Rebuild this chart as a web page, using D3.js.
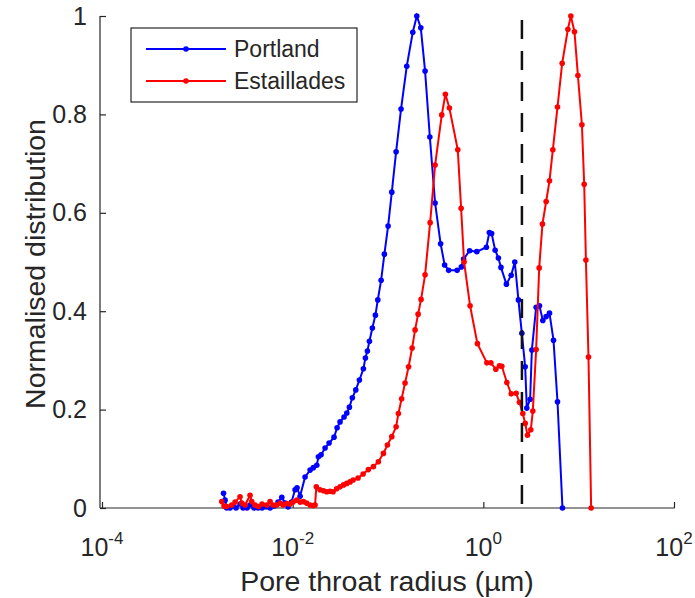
<!DOCTYPE html>
<html>
<head>
<meta charset="utf-8">
<script src="https://cdn.jsdelivr.net/npm/d3@7"></script>
<style>
  body { margin: 0; background: #fff; }
  text { font-family: "Liberation Sans", Arial, sans-serif; fill: #262626; }
</style>
</head>
<body>
<div id="chart"></div>
<script>
// log10 of pore throat radius (um) and normalised distribution
var portlandLogR = [-2.725, -2.709, -2.692, -2.657, -2.625, -2.594, -2.552, -2.520, -2.479, -2.447,
  -2.405, -2.363, -2.321, -2.279, -2.237, -2.195, -2.153, -2.114, -2.080, -2.048,
  -2.012, -1.975, -1.954, -1.922, -1.870, -1.817, -1.783, -1.747, -1.730, -1.702,
  -1.660, -1.618, -1.566, -1.534, -1.503, -1.461, -1.432, -1.405, -1.374, -1.338,
  -1.300, -1.258, -1.237, -1.216, -1.195, -1.164, -1.132, -1.107, -1.072, -1.038,
  -0.999, -0.960, -0.915, -0.863, -0.803, -0.740, -0.698, -0.656, -0.611, -0.561,
  -0.506, -0.448, -0.406, -0.364, -0.275, -0.230, -0.207, -0.144, -0.068, 0.032,
  0.063, 0.087, 0.124, 0.158, 0.185, 0.242, 0.292, 0.330, 0.368, 0.404,
  0.439, 0.456, 0.491, 0.509, 0.554, 0.589, 0.624, 0.659, 0.694, 0.736,
  0.778, 0.830];
var portlandDist = [0.030, 0.016, 0, 0, 0.004, 0, 0.008, 0, 0, 0.006,
  0, 0, 0, 0.002, 0, 0.004, 0.012, 0.022, 0.010, 0.002,
  0.012, 0.037, 0.041, 0.024, 0.063, 0.077, 0.082, 0.087, 0.104, 0.108,
  0.122, 0.132, 0.144, 0.163, 0.175, 0.185, 0.193, 0.205, 0.224, 0.240,
  0.260, 0.283, 0.305, 0.319, 0.339, 0.366, 0.392, 0.423, 0.463, 0.516,
  0.573, 0.642, 0.724, 0.811, 0.898, 0.967, 1.000, 0.976, 0.888, 0.754,
  0.620, 0.537, 0.494, 0.483, 0.483, 0.490, 0.506, 0.523, 0.521, 0.530,
  0.560, 0.558, 0.524, 0.508, 0.489, 0.455, 0.473, 0.500, 0.423, 0.355,
  0.287, 0.203, 0.221, 0.321, 0.408, 0.411, 0.381, 0.389, 0.396, 0.341,
  0.216, 0];

var estailladesLogR = [-2.744, -2.720, -2.692, -2.639, -2.604, -2.552, -2.534, -2.499, -2.447, -2.429,
  -2.395, -2.360, -2.321, -2.272, -2.237, -2.206, -2.167, -2.132, -2.101, -2.062,
  -2.027, -1.996, -1.957, -1.922, -1.888, -1.854, -1.817, -1.786, -1.765, -1.752,
  -1.713, -1.676, -1.642, -1.608, -1.576, -1.539, -1.503, -1.466, -1.432, -1.398,
  -1.366, -1.314, -1.261, -1.206, -1.153, -1.101, -1.048, -1.006, -0.960, -0.915,
  -0.891, -0.857, -0.821, -0.784, -0.747, -0.716, -0.684, -0.653, -0.611, -0.558,
  -0.506, -0.436, -0.398, -0.356, -0.268, -0.233, -0.202, -0.139, -0.062, 0.037,
  0.079, 0.131, 0.169, 0.194, 0.247, 0.292, 0.344, 0.379, 0.414, 0.439,
  0.463, 0.498, 0.519, 0.554, 0.586, 0.620, 0.659, 0.694, 0.729, 0.778,
  0.827, 0.887, 0.918, 0.956, 0.992, 1.034, 1.058, 1.076, 1.103, 1.131];
var estailladesDist = [0.013, 0.004, 0.003, 0.006, 0.012, 0.023, 0.010, 0.006, 0.026, 0.013,
  0.006, 0.003, 0.008, 0.006, 0.013, 0.006, 0.006, 0.010, 0.006, 0.009,
  0.008, 0.012, 0.016, 0.012, 0.013, 0.010, 0.006, 0.005, 0.006, 0.043,
  0.037, 0.035, 0.033, 0.034, 0.033, 0.039, 0.043, 0.047, 0.050, 0.053,
  0.057, 0.061, 0.069, 0.078, 0.084, 0.094, 0.111, 0.128, 0.145, 0.165,
  0.192, 0.222, 0.254, 0.287, 0.325, 0.362, 0.394, 0.424, 0.474, 0.580,
  0.697, 0.799, 0.841, 0.813, 0.728, 0.609, 0.500, 0.411, 0.334, 0.295,
  0.295, 0.282, 0.289, 0.288, 0.255, 0.232, 0.233, 0.215, 0.192, 0.172,
  0.148, 0.159, 0.197, 0.322, 0.488, 0.577, 0.623, 0.665, 0.728, 0.815,
  0.904, 0.973, 1.000, 0.968, 0.879, 0.779, 0.658, 0.504, 0.307, 0];

var cutoffRadius = 2.54;
var xTicks = [1e-4, 1e-2, 1, 1e2];
var xTickExp = ["-4", "-2", "0", "2"];
var yTicks = [0, 0.2, 0.4, 0.6, 0.8, 1];
var seriesNames = ["Portland", "Estaillades"];
var seriesColors = ["#0000ff", "#ff0000"];

var svgWidth = 695;
var svgHeight = 598;

var svg = d3.select("#chart")
  .append("svg")
  .attr("width", svgWidth)
  .attr("height", svgHeight);

var xScale = d3.scaleLog().domain([1e-4, 1e2]).range([102, 674]);
var yScale = d3.scaleLinear().domain([0, 1]).range([508, 16]);

// series as arrays of {r, v}
var series = [
  portlandLogR.map((e, i) => ({ r: Math.pow(10, e), v: portlandDist[i] })),
  estailladesLogR.map((e, i) => ({ r: Math.pow(10, e), v: estailladesDist[i] }))
];

// axes
var xAxis = svg.append("g")
  .attr("transform", `translate(0, ${yScale(0)})`)
  .call(d3.axisBottom(xScale).tickValues(xTicks).tickSizeInner(-6).tickSizeOuter(0).tickFormat(""));

var yAxis = svg.append("g")
  .attr("transform", "translate(100, 0)")
  .call(d3.axisLeft(yScale).tickValues(yTicks).tickSizeInner(-6).tickSizeOuter(0).tickPadding(13)
    .tickFormat(d3.format("")));

svg.selectAll(".domain").remove();
svg.selectAll(".tick line").attr("stroke", "#262626").attr("stroke-width", 1.2);
yAxis.selectAll(".tick text").attr("font-size", 25).attr("fill", "#262626")
  .style("font-family", "'Liberation Sans', Arial, sans-serif");

svg.append("line")
  .attr("x1", 100).attr("x2", 100)
  .attr("y1", yScale(1)).attr("y2", yScale(0))
  .attr("stroke", "#262626").attr("stroke-width", 1.2);
svg.append("line")
  .attr("x1", 100).attr("x2", xScale(1e2) + 0.6)
  .attr("y1", yScale(0)).attr("y2", yScale(0))
  .attr("stroke", "#262626").attr("stroke-width", 1.2);

// x tick labels with superscript exponents
var xLab = svg.append("g").selectAll("text")
  .data(xTicks)
  .enter()
  .append("text")
  .attr("x", d => xScale(d))
  .attr("y", 556)
  .attr("text-anchor", "middle")
  .attr("font-size", 25);
xLab.append("tspan").text("10");
xLab.append("tspan").attr("dy", -12).attr("font-size", 17).text((d, i) => xTickExp[i]);

// axis titles
svg.append("text")
  .attr("x", 387)
  .attr("y", 591)
  .attr("text-anchor", "middle")
  .attr("font-size", 28.5)
  .text("Pore throat radius (\u00b5m)");

svg.append("text")
  .attr("transform", "translate(45, 264) rotate(-90)")
  .attr("text-anchor", "middle")
  .attr("font-size", 28.5)
  .text("Normalised distribution");

// lines + markers
var line = d3.line().x(d => xScale(d.r)).y(d => yScale(d.v));

series.forEach(function(data, i) {
  svg.append("path")
    .datum(data)
    .attr("d", line)
    .attr("fill", "none")
    .attr("stroke", seriesColors[i])
    .attr("stroke-width", 2);
  svg.append("g").selectAll("circle")
    .data(data)
    .enter()
    .append("circle")
    .attr("cx", d => xScale(d.r))
    .attr("cy", d => yScale(d.v))
    .attr("r", 2.8)
    .attr("fill", seriesColors[i]);
});

// cutoff line
svg.append("line")
  .attr("x1", xScale(cutoffRadius)).attr("x2", xScale(cutoffRadius))
  .attr("y1", 20).attr("y2", yScale(0))
  .attr("stroke", "#111")
  .attr("stroke-width", 2.5)
  .attr("stroke-dasharray", "19,12");

// legend
var legend = svg.append("g");
legend.append("rect")
  .attr("x", 131).attr("y", 28)
  .attr("width", 226).attr("height", 74)
  .attr("fill", "#fff")
  .attr("stroke", "#262626")
  .attr("stroke-width", 1.2);

seriesNames.forEach(function(name, i) {
  var ly = 49 + i * 32;
  legend.append("line")
    .attr("x1", 146).attr("x2", 226)
    .attr("y1", ly).attr("y2", ly)
    .attr("stroke", seriesColors[i])
    .attr("stroke-width", 2);
  legend.append("circle")
    .attr("cx", 186).attr("cy", ly).attr("r", 2.8)
    .attr("fill", seriesColors[i]);
  legend.append("text")
    .attr("x", 234).attr("y", ly + 8)
    .attr("font-size", 23)
    .text(name);
});
</script>
</body>
</html>
